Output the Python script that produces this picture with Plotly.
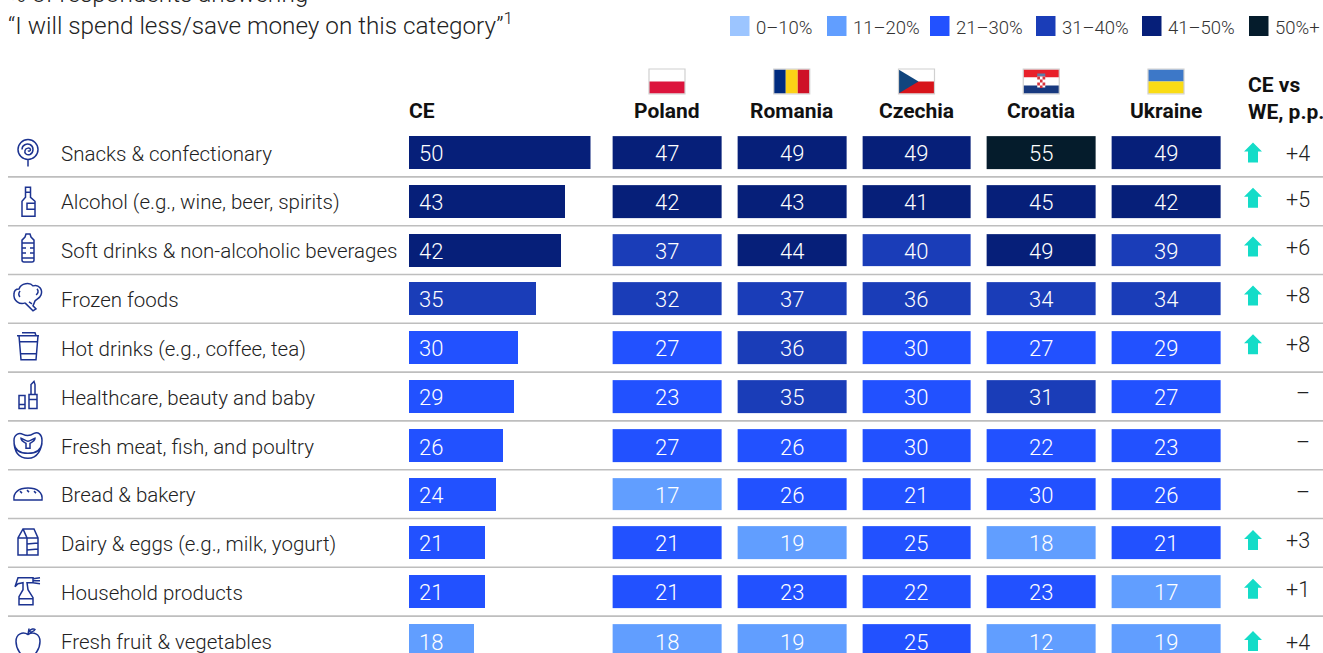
import re
import plotly.graph_objects as go

# ---- data ----
categories = ["Snacks & confectionary", "Alcohol (e.g., wine, beer, spirits)",
              "Soft drinks & non-alcoholic beverages", "Frozen foods",
              "Hot drinks (e.g., coffee, tea)", "Healthcare, beauty and baby",
              "Fresh meat, fish, and poultry", "Bread & bakery",
              "Dairy & eggs (e.g., milk, yogurt)", "Household products",
              "Fresh fruit & vegetables"]
ce = [50, 43, 42, 35, 30, 29, 26, 24, 21, 21, 18]
poland = [47, 42, 37, 32, 27, 23, 27, 17, 21, 21, 18]
romania = [49, 43, 44, 37, 36, 35, 26, 26, 19, 23, 19]
czechia = [49, 41, 40, 36, 30, 30, 30, 21, 25, 22, 25]
croatia = [55, 45, 49, 34, 27, 31, 22, 30, 18, 23, 12]
ukraine = [49, 42, 39, 34, 29, 27, 23, 26, 21, 17, 19]
countries = ["Poland", "Romania", "Czechia", "Croatia", "Ukraine"]
ce_vs_we = ["+4", "+5", "+6", "+8", "+8", "–", "–", "–", "+3", "+1", "+4"]
legend_labels = ["0–10%", "11–20%", "21–30%", "31–40%", "41–50%", "50%+"]

# ---- styling ----
W, H = 1323, 653
PITCH = 48.8
ROW0 = 152.5
BAR_H = 33
FONT = "Roboto"
INK = "#222222"
RULE = "#BEBEBE"
ICON = "#1C3391"
TEAL = "#14DCC8"
bucket_colors = ["#9CC5FF", "#619EFF", "#2251FF", "#1A3DB8", "#061F79", "#051C2C"]
legend_swatch_x = [730, 827, 930, 1036, 1142, 1249]
delta_nudge = [1, -2, -3, -3, -3, -3, -3, -2, -2, -2, 2]
arrow_nudge = [0, -3.5, -3.5, -3.5, -3.5, 0, 0, 0, -3, -3, 0.5]
label_nudge = [1, 1, 1, 1, 1, 1, 2, 1, 1, 1, 1.5]


def bucket(v):
    if v <= 10:
        return 0
    if v <= 20:
        return 1
    if v <= 30:
        return 2
    if v <= 40:
        return 3
    if v <= 50:
        return 4
    return 5


def py(y):
    return 1 - y / H


def px(x):
    return x / W


annotations = []
shapes = []


def note(text, x, y, anchor="left", size=20, weight=None, color=INK, xref="paper", yref="paper", yshift=0, xshift=0):
    font = dict(family=FONT, size=size, color=color)
    if weight:
        font["weight"] = weight
    annotations.append(dict(text=text, x=x, y=y, xref=xref, yref=yref, xanchor=anchor,
                            yanchor="middle", showarrow=False, font=font, yshift=yshift,
                            xshift=xshift, borderpad=0, borderwidth=0))


def flip(path):
    """Icon paths are written y-down; pixel-sized shapes expect y-up."""
    out, idx = [], 0
    for tok in re.findall(r"[MLCQZ]|-?\d+\.?\d*", path):
        if tok in "MLCQZ":
            out.append(tok)
            continue
        val = float(tok)
        out.append(str(-val if idx % 2 else val))
        idx += 1
    return " ".join(out)


def ring(cx, cy, r):
    k = r * 0.5523
    return (f"M {cx - r} {cy} C {cx - r} {cy - k} {cx - k} {cy - r} {cx} {cy - r} "
            f"C {cx + k} {cy - r} {cx + r} {cy - k} {cx + r} {cy} "
            f"C {cx + r} {cy + k} {cx + k} {cy + r} {cx} {cy + r} "
            f"C {cx - k} {cy + r} {cx - r} {cy + k} {cx - r} {cy} Z ")


# Line-art pictograms, local pixels around (icon column, row centre)
icons = [
    ring(0, -3, 10) + "M -6 -3 C -6 -8 -1 -9 2 -8 C 6 -6 6 0 2 2 C -1 3 -4 1 -3 -2 C -2 -5 2 -5 2.5 -3 C 2.5 -1 0.5 -1 0 -2 "
    "M 0 7 L 0 14",
    "M -2.5 -14 L 2.5 -14 L 2.5 -4 L 7 0 L 7 15 L -6 15 L -6 0 L -2.5 -4 Z M 7 2 L -1 2 L -1 8 L 7 8 M -2.5 -9 L 2.5 -9",
    "M -2 -16 L 2 -16 L 3 -13 L 6 -10 L 6 10 C 6 12 5 12 4 12 L -4 12 C -5 12 -6 12 -6 10 L -6 -10 L -3 -13 Z "
    "M -6 -7 L 6 -7 M -6 -2 L -2 -2 M 6 -2 L 2 -2 M -6 3 L -2 3 M 6 3 L 2 3 M -6 8 L 6 8",
    "M -3 4 C -8 6 -15 2 -14 -5 C -14 -9 -11 -10 -9 -10 C -7 -16 2 -17 5 -13 C 11 -15 15 -9 13 -4 C 12 -1 9 0 7 2 L 5 7 L 8 10 L 5 12 L -3 4 "
    "M -8 -8 C -10 -5 -9 -3 -8 -2 M 9 -10 C 11 -8 10 -5 8 -4 M 1 3 L 4 5",
    "M -9 -12 L 10 -12 L 8 12 L -7 12 Z M -11 -12 L 11 -12 M -6 -15 L 7 -15 L 8 -12 M -8 -6 L 9 -6 M -7 6 L 8 6",
    "M -9 -1 L -3 -1 L -3 12 L -9 12 Z M -9 8 L -3 8 M 1 -2 L 9 -2 L 9 12 L 1 12 Z M 1 3 L 9 3 M 3 -2 L 3 -12 L 6 -15 L 7 -12 L 7 -2",
    "M -14 -5 C -14 -11 -9 -13 -5 -11 C -1 -9 3 -10 6 -12 C 10 -14 14 -11 14 -5 C 14 3 10 13 0 13 C -9 13 -14 8 -14 -5 Z "
    "M -14 -2 C -13 6 -7 8 0 8 C 8 8 13 5 14 -2 "
    "M -7 -7 C -4 -6 -2 -4 0 -4 C 2 -4 4 -6 7 -7 C 7 -5 4 -3 2 -2 L 2 3 L -2 3 L -2 -2 C -4 -3 -7 -5 -7 -7 Z",
    "M -14 6 L 14 6 C 15 -2 9 -6 0 -6 C -9 -6 -15 -2 -14 6 Z M -8 -3 L -6 -1 M -1 -4 L 1 -2 M 6 -3 L 8 -1",
    "M -10 -5 L -5 -14 L 6 -14 L 10 -5 L 10 12 L -10 12 Z M -5 -14 L -1 -5 L -1 12 M -1 -5 L 10 -5 M -1 1 L 10 0 M -1 7 L 10 6 M -10 -5 L -1 -5",
    "M -13 -5 L -10 -14 L 5 -14 L 5 -9 L -1 -9 L 0 -2 L 5 6 L 5 13 L -9 13 L -9 5 L -5 -2 L -5 -9 L -10 -8 Z M -9 7 L 5 7 M 5 -13 L 12 -14 M 5 -11 L 12 -11 M 5 -9 L 12 -8",
    "M 0 -6 C -5 -9 -12 -7 -12 1 C -12 9 -6 16 -3 16 L 3 16 C 6 16 12 9 12 1 C 12 -7 5 -9 0 -6 Z M 0 -6 L 1 -12 M 1 -9 C 3 -12 6 -12 7 -11 C 6 -9 3 -8 1 -9",
]

for i, path in enumerate(icons):
    shapes.append(dict(type="path", path=flip(path), xsizemode="pixel", ysizemode="pixel",
                       xref="paper", yref="y", xanchor=px(28), yanchor=i,
                       line=dict(color=ICON, width=1.5), fillcolor="rgba(0,0,0,0)"))

# Row separators
for i in range(len(categories) - 1):
    shapes.append(dict(type="line", xref="paper", yref="y", x0=px(8), x1=1,
                       y0=i + 0.5, y1=i + 0.5, line=dict(color=RULE, width=1.6)))

# Flags: stripes in local pixels around each country column
flag_stripes = {
    "Poland": [(-18, -12, 18, 0, "#FFFFFF"), (-18, 0, 18, 12, "#DC143C")],
    "Romania": [(-18, -12, -6, 12, "#002B7F"), (-6, -12, 6, 12, "#FCD116"), (6, -12, 18, 12, "#CE1126")],
    "Czechia": [(-18, -12, 18, 0, "#FFFFFF"), (-18, 0, 18, 12, "#D7141A")],
    "Croatia": [(-18, -12, 18, -4, "#E8202A"), (-18, -4, 18, 4, "#FFFFFF"), (-18, 4, 18, 12, "#18397F"),
                (-4, -8, 4, -5, "#5C7FA8"), (-4, -5, 4, 6, "#FFFFFF"),
                (-4, -5, -1.3, -2, "#D8333C"), (1.3, -5, 4, -2, "#D8333C"), (-1.3, -2, 1.3, 1, "#D8333C"),
                (-4, 1, -1.3, 4, "#D8333C"), (1.3, 1, 4, 4, "#D8333C"), (-1.3, 4, 1.3, 6.5, "#D8333C")],
    "Ukraine": [(-18, -12, 18, 0, "#3D78C8"), (-18, 0, 18, 12, "#FADC14")],
}
FLAG_Y = 81.5
for j, name in enumerate(countries):
    base = dict(xsizemode="pixel", ysizemode="pixel", xref="x2", yref="paper",
                xanchor=j, yanchor=py(FLAG_Y))
    for x0, y0, x1, y1, col in flag_stripes[name]:
        shapes.append(dict(type="rect", x0=x0, x1=x1, y0=-y0, y1=-y1, fillcolor=col,
                           line=dict(width=0), **base))
    if name == "Czechia":
        shapes.append(dict(type="path", path=flip("M -18 -12 L 2 0 L -18 12 Z"),
                           fillcolor="#11457E", line=dict(width=0), **base))
    shapes.append(dict(type="rect", x0=-18, x1=18, y0=-12.5, y1=12.5,
                       fillcolor="rgba(0,0,0,0)", line=dict(color="#D0D0D0", width=1.2), **base))

# Upward change markers
ARROW = "M 0 -10 L 9 -1 L 5 -1 L 5 10 L -5 10 L -5 -1 L -9 -1 Z"

# Legend
for x, col, lab in zip(legend_swatch_x, bucket_colors, legend_labels):
    shapes.append(dict(type="rect", xref="paper", yref="paper", x0=px(x), x1=px(x + 19.5),
                       y0=py(16), y1=py(36), fillcolor=col, line=dict(width=0)))
    note(lab, px(x + 26), py(27.5), size=18.5, color="#333333", weight=300)

# Headings
note("% of respondents answering", px(8), py(-7), size=24.3, weight=300)
note("“I will spend less/save money on this category”<sup>1</sup>", px(8), py(24), size=24.3, weight=300)
note("CE", px(409), py(111), size=21, weight=700, color="#111111")
for j, name in enumerate(countries):
    note(name, j, py(111), anchor="center", size=21, weight=700, color="#111111", xref="x2")
note("CE vs", px(1248), py(85), size=21, weight=700, color="#111111")
note("WE, p.p.", px(1248), py(112), size=21, weight=700, color="#111111")

rows = [poland, romania, czechia, croatia, ukraine]

# Row text
for i, cat in enumerate(categories):
    note(cat, px(61), i, size=20.5, yref="y", yshift=-label_nudge[i], weight=300)
    note(str(ce[i]), 0, i, size=22, color="#FFFFFF", xref="x", yref="y", xshift=10,
         yshift=-label_nudge[i], weight=300)
    for j, col in enumerate(rows):
        note(str(col[i]), j, i, anchor="center", size=22, color="#FFFFFF", xref="x2", yref="y",
             yshift=-label_nudge[i], weight=300)
    note(ce_vs_we[i], px(1310), i, anchor="right", size=21.5, yref="y", yshift=-delta_nudge[i], weight=300)
    if ce_vs_we[i] != "–":
        shapes.append(dict(type="path", path=flip(ARROW), xsizemode="pixel", ysizemode="pixel",
                           xref="paper", yref="y", xanchor=px(1253), yanchor=i + arrow_nudge[i] / PITCH,
                           fillcolor=TEAL, line=dict(width=0)))

fig = go.Figure()

# CE: horizontal bars against a linear axis
fig.add_trace(go.Bar(x=ce, y=list(range(len(ce))), orientation="h", width=BAR_H / PITCH,
                     marker=dict(color=[bucket_colors[bucket(v)] for v in ce], line=dict(width=0)),
                     xaxis="x", yaxis="y", hoverinfo="skip", showlegend=False))

# Countries: banded cells
values_by_row = [[col[i] for col in rows] for i in range(len(categories))]
bands = [[bucket(v) for v in row] for row in values_by_row]
steps = len(bucket_colors)
scale = []
for k, c in enumerate(bucket_colors):
    scale += [[k / steps, c], [(k + 1) / steps, c]]
fig.add_trace(go.Heatmap(z=bands, x=list(range(len(countries))), y=list(range(len(categories))),
                         colorscale=scale, zmin=-0.5, zmax=steps - 0.5, showscale=False,
                         xgap=16, ygap=16, xaxis="x2", yaxis="y", hoverinfo="skip"))

cell_half = 62.375
fig.update_layout(
    width=W, height=H, autosize=False, margin=dict(l=0, r=0, t=0, b=0, pad=0),
    paper_bgcolor="#FFFFFF", plot_bgcolor="#FFFFFF", bargap=0, showlegend=False,
    font=dict(family=FONT, color=INK),
    xaxis=dict(domain=[px(409), px(590.5)], range=[0, 50], visible=False, fixedrange=True),
    xaxis2=dict(domain=[px(667 - cell_half), px(1166 + cell_half)], range=[-0.5, 4.5],
                visible=False, fixedrange=True, anchor="y"),
    yaxis=dict(domain=[0, 1], range=[(H - ROW0) / PITCH, -ROW0 / PITCH], visible=False, fixedrange=True),
    shapes=shapes, annotations=annotations,
)
fig.write_html("out.html", config=dict(displayModeBar=False))
